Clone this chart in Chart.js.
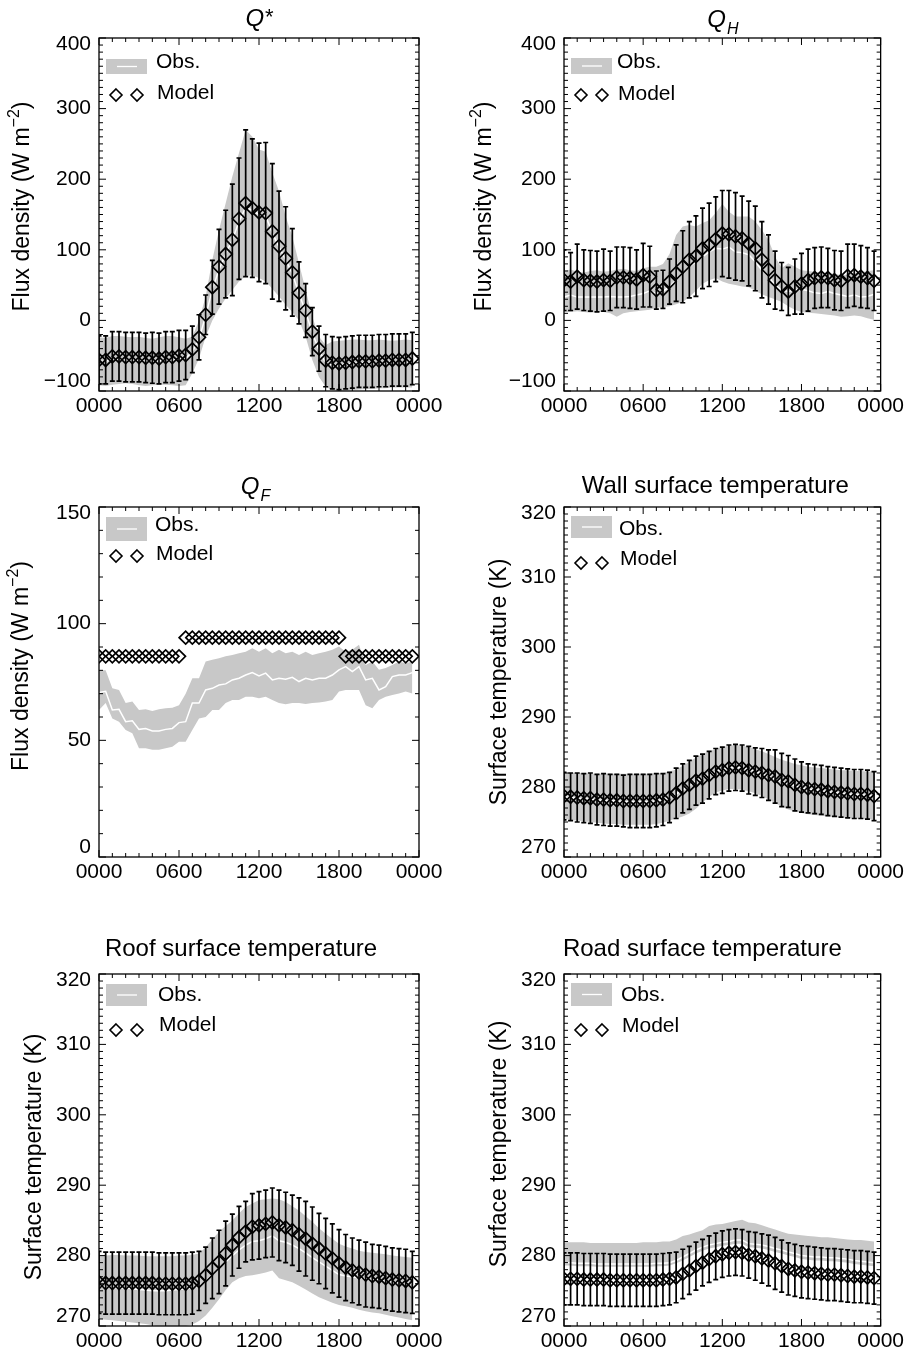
<!DOCTYPE html>
<html>
<head>
<meta charset="utf-8">
<script src="https://cdn.jsdelivr.net/npm/chart.js@4.4.1/dist/chart.umd.min.js"></script>
<style>
  body { margin: 0; background: #fff; }
  #page { position: relative; width: 907px; height: 1360px; overflow: hidden; }
  canvas { position: absolute; }
</style>
</head>
<body>
<div id="page">
  <canvas id="c1"></canvas>
  <canvas id="c2"></canvas>
  <canvas id="c3"></canvas>
  <canvas id="c4"></canvas>
  <canvas id="c5"></canvas>
  <canvas id="c6"></canvas>
</div>
<script>
// half-hourly time of day (h)
const hours = [0,0.5,1,1.5,2,2.5,3,3.5,4,4.5,5,5.5,6,6.5,7,7.5,8,8.5,9,9.5,10,10.5,11,11.5,
  12,12.5,13,13.5,14,14.5,15,15.5,16,16.5,17,17.5,18,18.5,19,19.5,20,20.5,21,21.5,22,22.5,23,23.5];
const xTicks = [0, 6, 12, 18, 24];
const xTickLabels = ['0000', '0600', '1200', '1800', '0000'];

const fluxTicks = [-100, 0, 100, 200, 300, 400];
const qfTicks = [0, 50, 100, 150];
const tempTicks = [270, 280, 290, 300, 310, 320];

// Q*
const qstarModel = [-56,-56,-51,-51,-52,-52,-52,-53,-53,-54,-52,-52,-50,-49,-41,-24,8,47,76,94,
  114,144,166,159,153,152,126,105,88,68,39,14,-16,-40,-57,-60,-61,-60,-59,-58,-58,-58,-57,-57,-56,-56,-56,-54];
const qstarErr = [34,34,35,35,35,35,35,35,36,36,36,36,36,35,33,32,28,38,53,62,
  79,86,104,98,98,100,96,78,73,62,44,38,34,32,37,37,37,37,37,37,37,37,37,37,37,37,37,37];
const qstarObsHigh = [-24,-25,-22,-22,-23,-24,-23,-25,-26,-24,-22,-22,-24,-26,-23,0,34,86,128,166,
  204,237,270,260,242,239,209,183,147,119,81,43,5,-23,-35,-30,-29,-28,-27,-27,-28,-28,-27,-28,-29,-28,-27,-28];
const qstarObsLow = [-92,-93,-91,-90,-89,-90,-92,-93,-92,-91,-91,-92,-93,-92,-75,-54,-23,0,17,31,
  43,55,63,64,60,55,45,34,22,12,0,-23,-56,-80,-94,-99,-100,-100,-99,-98,-97,-97,-96,-96,-95,-95,-95,-95];
const qstarObsMean = [-58,-58,-55,-55,-56,-56,-56,-57,-57,-57,-56,-56,-55,-54,-44,-26,6,44,72,94,
  114,140,160,156,150,148,124,104,86,66,38,12,-18,-42,-60,-63,-63,-62,-61,-60,-60,-60,-60,-60,-59,-59,-59,-58];

// QH
const qhModel = [57,55,62,57,56,55,57,56,61,61,60,58,64,62,43,44,55,67,76,86,
  91,102,107,115,123,122,119,116,109,102,86,72,57,48,41,48,52,57,60,61,60,57,56,63,64,62,60,56];
const qhErr = [43,41,46,43,43,43,44,42,43,43,43,42,45,43,27,27,32,40,51,54,
  57,57,59,60,61,62,62,60,60,60,54,49,41,34,34,39,43,44,43,43,42,42,42,45,44,44,43,42];
const qhObsHigh = [70,72,69,68,70,71,69,70,72,73,71,70,74,76,76,80,94,121,133,135,
  133,138,142,152,165,154,147,147,147,140,128,114,90,74,81,76,71,70,69,68,67,66,64,65,67,68,70,71];
const qhObsLow = [12,12,13,12,11,12,12,10,5,10,12,13,14,15,18,19,20,23,26,33,
  42,52,57,60,55,52,50,48,47,42,37,33,30,26,20,15,12,11,10,9,8,7,5,6,7,6,3,1];
const qhObsMean = [33,36,33,33,33,33,33,34,33,33,34,36,38,42,38,41,48,57,67,76,
  83,90,97,102,101,104,97,96,93,83,71,62,50,43,41,43,44,42,39,38,41,38,36,34,36,33,34,37];

// QF
const qfModel = [86,86,86,86,86,86,86,86,86,86,86,86,86,
  94,94,94,94,94,94,94,94,94,94,94,94,94,94,94,94,94,94,94,94,94,94,94,94,
  86,86,86,86,86,86,86,86,86,86,86];
const qfObsHigh = [80,80,72.3,71.6,66,66.6,63,63.3,62.6,63.3,63.7,64,65,70,76.6,76.6,83.8,84.5,85.2,86,
  86.6,87.3,88,89.5,88,89.5,87.3,88.8,87.3,88,86.6,88,86.6,87.3,88,88.8,90.2,88,88.8,91,
  82.3,83.8,80.2,81,82.3,83.8,83,83.8];
const qfObsLow = [63,66,59.4,58,54.4,53,46.6,46.6,46,46,46.6,47.3,49.4,49.4,54.4,59.4,60,63,63,66,
  67.3,67.3,68.7,68.7,68,68.7,67.3,66,65.5,66,66,65.6,66,66.2,66.6,67.3,70.9,71.6,71.6,71.6,
  65,63.7,67.3,68.7,69.4,70.1,70.9,70.1];
const qfObsMean = [70.5,71,63,63.3,58,58.4,54.7,55.1,54,54,54.7,55.1,57.6,58,66,66,71.6,72.3,73.7,74.2,
  75.9,76.6,78,79,77.6,78.8,75.9,76.6,76.2,77,75.2,76.6,75.9,76.6,76.6,78,80.2,81.6,79.5,81.6,
  75.9,76.6,71.6,73,77.3,78,78,79];

// wall surface temperature
const wallModel = [278.7,278.6,278.5,278.4,278.4,278.2,278.2,278.1,278.1,278.0,278.0,278.0,278.0,278.0,278.1,278.2,278.5,279.1,279.8,280.3,
  280.9,281.2,281.7,282.2,282.4,282.7,282.8,282.7,282.4,282.2,282.0,281.7,281.5,281.0,280.8,280.3,280.0,279.8,279.7,279.6,
  279.4,279.3,279.2,279.1,279.0,279.0,278.9,278.7];
const wallErr = [3.4,3.4,3.5,3.5,3.6,3.6,3.7,3.7,3.7,3.7,3.8,3.8,3.8,3.8,3.8,3.7,3.6,3.6,3.5,3.5,
  3.5,3.5,3.4,3.3,3.3,3.3,3.3,3.3,3.4,3.4,3.5,3.6,3.8,3.8,3.7,3.7,3.6,3.5,3.5,3.5,
  3.5,3.5,3.5,3.5,3.5,3.5,3.5,3.5];
const wallObsHigh = [282.0,282.0,282.0,282.0,281.9,281.9,281.9,281.9,281.9,281.9,281.9,281.9,281.9,281.9,282.0,282.0,282.2,282.5,283.0,283.6,
  284.2,284.7,285.1,285.4,285.7,285.9,286.0,285.9,285.7,285.4,285.1,284.7,284.3,283.9,283.6,283.3,283.1,282.9,282.8,282.7,
  282.6,282.5,282.4,282.4,282.3,282.3,282.2,282.2];
const wallObsLow = [275.5,275.3,275.2,275.1,275.0,274.9,274.8,274.7,274.7,274.6,274.6,274.6,274.6,274.6,274.7,274.9,275.2,275.5,275.8,276.2,
  276.9,277.8,278.6,279.2,279.5,279.7,279.7,279.6,279.4,279.1,278.7,278.2,277.7,277.2,276.8,276.5,276.3,276.1,276.0,275.9,
  275.8,275.7,275.6,275.6,275.5,275.5,275.4,275.4];
const wallObsMean = [278.6,278.5,278.4,278.3,278.3,278.1,278.1,278.0,278.0,277.9,277.9,277.9,277.9,277.9,278.0,278.2,278.5,279.0,279.6,280.2,
  280.8,281.3,281.8,282.2,282.5,282.7,282.8,282.7,282.5,282.2,281.9,281.5,281.1,280.8,280.5,280.2,279.9,279.7,279.6,279.5,
  279.3,279.2,279.1,279.0,278.9,278.9,278.8,278.7];

// roof surface temperature
const roofModel = [276.2,276.1,276.1,276.1,276.1,276.1,276.1,276.1,276.1,276.0,276.0,276.0,276.0,276.0,276.1,276.4,277.2,278.2,279.1,280.3,
  281.5,282.6,283.4,284.1,284.3,284.5,284.7,284.3,284.0,283.6,283.0,282.4,281.7,281.0,280.3,279.6,278.9,278.3,277.9,277.6,
  277.3,277.1,277.0,276.8,276.6,276.5,276.4,276.2];
const roofErr = [4.4,4.4,4.4,4.4,4.4,4.4,4.4,4.4,4.4,4.4,4.4,4.4,4.4,4.4,4.4,4.2,4.0,4.3,4.5,4.6,
  4.4,4.4,4.3,4.7,4.8,4.8,4.9,5.0,5.0,5.0,5.2,5.3,5.2,5.0,5.0,4.9,4.8,4.7,4.6,4.6,
  4.6,4.5,4.5,4.5,4.5,4.5,4.5,4.4];
const roofObsHigh = [280.0,280.0,280.1,280.1,280.0,280.0,280.0,279.9,279.9,279.9,279.9,279.9,280.0,280.0,280.1,280.3,281.2,282.3,283.4,284.2,
  285.0,286.0,286.9,287.4,287.9,288.0,288.1,288.0,287.6,287.0,286.4,285.6,284.8,283.9,283.1,282.4,281.7,281.3,281.0,280.7,
  280.5,280.4,280.3,280.2,280.0,279.9,279.8,279.7];
const roofObsLow = [271.0,270.9,270.8,270.7,270.6,270.5,270.4,270.3,270.1,269.9,269.8,269.8,269.9,270.0,270.2,270.7,271.5,272.6,273.8,275.1,
  276.2,276.8,277.1,277.2,277.4,277.6,277.9,276.8,276.5,276.2,275.7,275.2,274.6,274.1,273.7,273.3,273.0,272.8,272.6,272.3,
  272.1,271.9,271.8,271.6,271.4,271.2,271.0,270.8];
const roofObsMean = [275.6,275.5,275.5,275.4,275.4,275.3,275.2,275.1,275.0,275.0,275.0,275.1,275.2,275.3,275.4,275.7,276.4,277.3,278.2,279.1,
  280.0,280.8,281.5,282.0,282.1,282.4,282.8,282.1,281.9,281.5,281.0,280.4,279.7,279.1,278.5,277.9,277.3,277.1,277.0,276.8,
  276.7,276.6,276.5,276.4,276.3,276.2,276.1,276.0];

// road surface temperature
const roadModel = [276.7,276.7,276.7,276.6,276.6,276.6,276.6,276.5,276.5,276.5,276.5,276.5,276.5,276.5,276.5,276.6,276.7,276.9,277.4,277.9,
  278.5,279.0,279.5,279.9,280.2,280.4,280.5,280.4,280.1,279.9,279.6,279.3,278.9,278.5,278.1,277.9,277.7,277.6,277.5,277.4,
  277.3,277.3,277.2,277.1,277.0,277.0,276.9,276.8];
const roadErr = [3.7,3.7,3.7,3.7,3.7,3.7,3.7,3.7,3.7,3.7,3.7,3.7,3.7,3.7,3.7,3.7,3.7,3.6,3.5,3.4,
  3.4,3.3,3.3,3.3,3.3,3.3,3.3,3.3,3.3,3.4,3.5,3.6,3.7,3.7,3.7,3.7,3.7,3.7,3.7,3.7,
  3.7,3.7,3.7,3.7,3.7,3.7,3.7,3.7];
const roadObsHigh = [281.9,281.9,281.9,281.9,281.8,281.8,281.8,281.8,281.8,281.8,281.8,281.8,281.9,281.9,281.9,282.0,282.0,282.3,282.8,283.0,
  283.3,283.6,284.2,284.4,284.5,284.7,284.9,285.1,284.7,284.6,284.3,284.0,283.7,283.4,283.1,283.0,282.9,282.8,282.7,282.6,
  282.6,282.5,282.4,282.3,282.2,282.2,282.1,282.0];
const roadObsLow = [278.6,278.6,278.5,278.5,278.5,278.4,278.4,278.4,278.4,278.4,278.4,278.4,278.4,278.4,278.5,278.5,278.6,278.9,279.3,279.8,
  280.3,280.7,281.0,281.2,281.4,281.5,281.7,281.7,281.2,281.1,281.0,280.8,280.5,280.3,280.0,279.8,279.5,279.4,279.3,279.3,
  279.2,279.2,279.1,279.0,278.8,278.7,278.6,278.5];
const roadObsMean = [279.0,279.0,278.9,278.9,278.9,278.8,278.8,278.8,278.8,278.8,278.8,278.8,278.8,278.8,278.9,278.9,279.0,279.3,279.8,280.3,
  280.8,281.2,281.5,281.7,281.9,282.0,282.2,282.2,281.7,281.6,281.5,281.3,281.0,280.8,280.5,280.3,280.0,279.9,279.8,279.8,
  279.7,279.7,279.6,279.5,279.3,279.2,279.1,279.0];

const FONT = "'Liberation Sans', Arial, Helvetica, sans-serif";
const BAND = '#c8c8c8';

const fluxLabel = [{ t: 'Flux density (W m' }, { t: '\u22122', sup: true }, { t: ')' }];
const tempLabel = [{ t: 'Surface temperature (K)' }];

// box = canvas [left, top, width, height]; area = plot frame [left, top, right, bottom], page px
const panels = [
  { id: 'c1', box: [0, 0, 453, 445], area: [99, 38, 419, 391],
    yMin: -100, yMax: 400, yTicks: fluxTicks, yMinor: 10,
    title: [{ t: 'Q', it: true }, { t: '*', star: true }], titleDx: 0, titleDy: -12,
    ytitle: fluxLabel, ytDx: -78, ytDy: -8,
    legend: { rt: 21, rh: 15, obsY: 24, rowY: 57, modelY: 55, tx: 57 },
    model: qstarModel, err: qstarErr, hi: qstarObsHigh, lo: qstarObsLow, mean: qstarObsMean },
  { id: 'c2', box: [453, 0, 454, 445], area: [564, 38, 885, 391],
    yMin: -100, yMax: 400, yTicks: fluxTicks, yMinor: 10,
    title: [{ t: 'Q', it: true }, { t: 'H', it: true, sub: true }], titleDx: 0, titleDy: -11,
    ytitle: fluxLabel, ytDx: -81, ytDy: -8,
    legend: { rt: 20, rh: 16, obsY: 24, rowY: 57, modelY: 56, tx: 53 },
    model: qhModel, err: qhErr, hi: qhObsHigh, lo: qhObsLow, mean: qhObsMean },
  { id: 'c3', box: [0, 455, 453, 450], area: [99, 507, 419, 857],
    yMin: 0, yMax: 150, yTicks: qfTicks, yMinor: 10,
    title: [{ t: 'Q', it: true }, { t: 'F', it: true, sub: true }], titleDx: -4, titleDy: -13,
    ytitle: fluxLabel, ytDx: -79, ytDy: -16,
    legend: { rt: 10, rh: 24, obsY: 18, rowY: 49, modelY: 47, tx: 56 },
    model: qfModel, err: null, hi: qfObsHigh, lo: qfObsLow, mean: qfObsMean },
  { id: 'c4', box: [453, 455, 454, 450], area: [564, 507, 885, 857],
    yMin: 270, yMax: 320, yTicks: tempTicks, yMinor: 1,
    title: [{ t: 'Wall surface temperature' }], titleDx: -7, titleDy: -14,
    ytitle: tempLabel, ytDx: -66, ytDy: 0,
    legend: { rt: 9, rh: 22, obsY: 22, rowY: 56, modelY: 52, tx: 55 },
    model: wallModel, err: wallErr, hi: wallObsHigh, lo: wallObsLow, mean: wallObsMean },
  { id: 'c5', box: [0, 915, 453, 445], area: [99, 974, 419, 1326],
    yMin: 270, yMax: 320, yTicks: tempTicks, yMinor: 1,
    title: [{ t: 'Roof surface temperature' }], titleDx: -18, titleDy: -18,
    ytitle: tempLabel, ytDx: -66, ytDy: 7,
    legend: { rt: 10, rh: 22, obsY: 21, rowY: 56, modelY: 51, tx: 59 },
    model: roofModel, err: roofErr, hi: roofObsHigh, lo: roofObsLow, mean: roofObsMean },
  { id: 'c6', box: [453, 915, 454, 445], area: [564, 974, 885, 1326],
    yMin: 270, yMax: 320, yTicks: tempTicks, yMinor: 1,
    title: [{ t: 'Road surface temperature' }], titleDx: -20, titleDy: -18,
    ytitle: tempLabel, ytDx: -66, ytDy: -6,
    legend: { rt: 9, rh: 23, obsY: 21, rowY: 56, modelY: 52, tx: 57 },
    model: roadModel, err: roadErr, hi: roadObsHigh, lo: roadObsLow, mean: roadObsMean }
];
const panelById = {};
panels.forEach(p => { panelById[p.id] = p; });

function partFont(p, size) {
  let s = size;
  if (p.sup || p.sub) s = Math.round(size * 0.68);
  if (p.star) s = Math.round(size * 0.9);
  return (p.it ? 'italic ' : '') + s + 'px ' + FONT;
}

// rich text centred on x, baseline y
function drawRich(ctx, parts, x, y, size) {
  let w = 0;
  parts.forEach(p => { ctx.font = partFont(p, size); w += ctx.measureText(p.t).width; });
  let cx = x - w / 2;
  ctx.textAlign = 'left';
  ctx.textBaseline = 'alphabetic';
  parts.forEach(p => {
    ctx.font = partFont(p, size);
    let dy = 0;
    if (p.sup) dy = -size * 0.42;
    if (p.sub) dy = size * 0.28;
    if (p.star) dy = -size * 0.08;
    ctx.fillText(p.t, cx, y + dy);
    cx += ctx.measureText(p.t).width + (p.it && !p.sub ? 1 : 0);
  });
}

function diamond(ctx, x, y, r) {
  ctx.beginPath();
  ctx.moveTo(x, y - r); ctx.lineTo(x + r, y); ctx.lineTo(x, y + r); ctx.lineTo(x - r, y);
  ctx.closePath();
  ctx.stroke();
}

const decor = {
  id: 'decor',
  beforeDatasetDraw(chart, args) {
    const p = panelById[chart.canvas.id];
    if (args.index !== 3 || !p.err) return;
    const { ctx, chartArea: a, scales: { x, y } } = chart;
    ctx.save();
    ctx.beginPath(); ctx.rect(a.left, a.top, a.width, a.height); ctx.clip();
    ctx.strokeStyle = '#000';
    ctx.lineWidth = 1.7;
    ctx.beginPath();
    hours.forEach((h, i) => {
      const px = x.getPixelForValue(h);
      const t = y.getPixelForValue(p.model[i] + p.err[i]);
      const b = y.getPixelForValue(p.model[i] - p.err[i]);
      ctx.moveTo(px, t); ctx.lineTo(px, b);
      ctx.moveTo(px - 2.5, t); ctx.lineTo(px + 2.5, t);
      ctx.moveTo(px - 2.5, b); ctx.lineTo(px + 2.5, b);
    });
    ctx.stroke();
    ctx.restore();
  },
  afterDraw(chart) {
    const p = panelById[chart.canvas.id];
    const { ctx, chartArea: a, scales: { x, y } } = chart;
    ctx.save();
    ctx.strokeStyle = '#000';
    ctx.fillStyle = '#000';

    // legend
    const lg = p.legend, L = a.left, T = a.top;
    ctx.fillStyle = BAND;
    ctx.fillRect(L + 7, T + lg.rt, 41, lg.rh);
    ctx.strokeStyle = '#fff';
    ctx.lineWidth = 1.3;
    ctx.beginPath();
    ctx.moveTo(L + 18, T + lg.rt + lg.rh / 2); ctx.lineTo(L + 38, T + lg.rt + lg.rh / 2);
    ctx.stroke();
    ctx.strokeStyle = '#000';
    ctx.lineWidth = 1.6;
    diamond(ctx, L + 17, T + lg.rowY, 6);
    diamond(ctx, L + 38, T + lg.rowY, 6);
    ctx.fillStyle = '#000';
    ctx.font = '21px ' + FONT;
    ctx.textAlign = 'left';
    ctx.textBaseline = 'middle';
    ctx.fillText('Obs.', L + lg.tx, T + lg.obsY);
    ctx.fillText('Model', L + lg.tx + 1, T + lg.modelY);

    // frame
    ctx.lineWidth = 1.3;
    ctx.strokeRect(a.left, a.top, a.width, a.height);

    // inward ticks on all sides
    ctx.lineWidth = 1;
    ctx.beginPath();
    const xMinorStep = 1;
    for (let k = 0; k <= 24 / xMinorStep; k++) {
      const v = k * xMinorStep;
      const len = xTicks.includes(v) ? 7 : 4;
      const px = x.getPixelForValue(v);
      ctx.moveTo(px, a.bottom); ctx.lineTo(px, a.bottom - len);
      ctx.moveTo(px, a.top); ctx.lineTo(px, a.top + len);
    }
    const n = Math.round((p.yMax - p.yMin) / p.yMinor);
    for (let k = 0; k <= n; k++) {
      const v = p.yMin + k * p.yMinor;
      const len = p.yTicks.some(t => Math.abs(t - v) < 1e-6) ? 7 : 4;
      const py = y.getPixelForValue(v);
      ctx.moveTo(a.left, py); ctx.lineTo(a.left + len, py);
      ctx.moveTo(a.right, py); ctx.lineTo(a.right - len, py);
    }
    ctx.stroke();

    // y tick labels (end labels kept inside the frame height)
    ctx.font = '21px ' + FONT;
    ctx.textAlign = 'right';
    ctx.textBaseline = 'middle';
    p.yTicks.forEach(v => {
      let py = y.getPixelForValue(v);
      py = Math.min(Math.max(py, a.top + 6), a.bottom - 10);
      ctx.fillText(v < 0 ? '\u2212' + Math.abs(v) : String(v), a.left - 8, py);
    });

    // title
    drawRich(ctx, p.title, (a.left + a.right) / 2 + p.titleDx, a.top + p.titleDy, 24);

    // y axis title
    ctx.translate(a.left + p.ytDx + 8, (a.top + a.bottom) / 2 + p.ytDy);
    ctx.rotate(-Math.PI / 2);
    drawRich(ctx, p.ytitle, 0, 0, 23);
    ctx.restore();
  }
};

panels.forEach(p => {
  const cv = document.getElementById(p.id);
  const [bl, bt, bw, bh] = p.box;
  const [al, at, ar, ab] = p.area;
  cv.width = bw; cv.height = bh;
  cv.style.left = bl + 'px'; cv.style.top = bt + 'px';
  cv.style.width = bw + 'px'; cv.style.height = bh + 'px';
  const xAxisH = 30;
  const pts = arr => arr.map((v, i) => ({ x: hours[i], y: v }));

  new Chart(cv, {
    type: 'line',
    data: {
      datasets: [
        { data: pts(p.lo), order: 3, borderWidth: 0, pointRadius: 0, fill: false },
        { data: pts(p.hi), order: 2, borderWidth: 0, pointRadius: 0, fill: '-1', backgroundColor: BAND },
        { data: pts(p.mean), order: 1, borderColor: '#fff', borderWidth: 1.5, pointRadius: 0, fill: false },
        { data: pts(p.model), order: 0, showLine: false, pointStyle: 'rectRot', pointRadius: 6.5,
          pointBorderWidth: 1.7, pointBorderColor: '#000', pointBackgroundColor: 'rgba(0,0,0,0)' }
      ]
    },
    options: {
      responsive: false,
      animation: false,
      events: [],
      devicePixelRatio: 1,
      layout: { padding: { left: 0, top: at - bt, right: bl + bw - ar, bottom: bt + bh - ab - xAxisH } },
      plugins: { legend: { display: false }, tooltip: { enabled: false } },
      scales: {
        x: {
          type: 'linear', min: 0, max: 24,
          grid: { display: false, drawTicks: false },
          border: { display: false },
          afterBuildTicks: s => { s.ticks = xTicks.map(v => ({ value: v })); },
          afterFit: s => { s.height = xAxisH; },
          ticks: {
            autoSkip: false, maxRotation: 0, padding: 3, color: '#000',
            font: { size: 21, family: FONT },
            callback: (v, i) => xTickLabels[i]
          }
        },
        y: {
          type: 'linear', min: p.yMin, max: p.yMax,
          grid: { display: false, drawTicks: false },
          border: { display: false },
          afterBuildTicks: s => { s.ticks = p.yTicks.map(v => ({ value: v })); },
          afterFit: s => { s.width = al - bl; },
          ticks: { display: false }
        }
      }
    },
    plugins: [decor]
  });
});
</script>
</body>
</html>
